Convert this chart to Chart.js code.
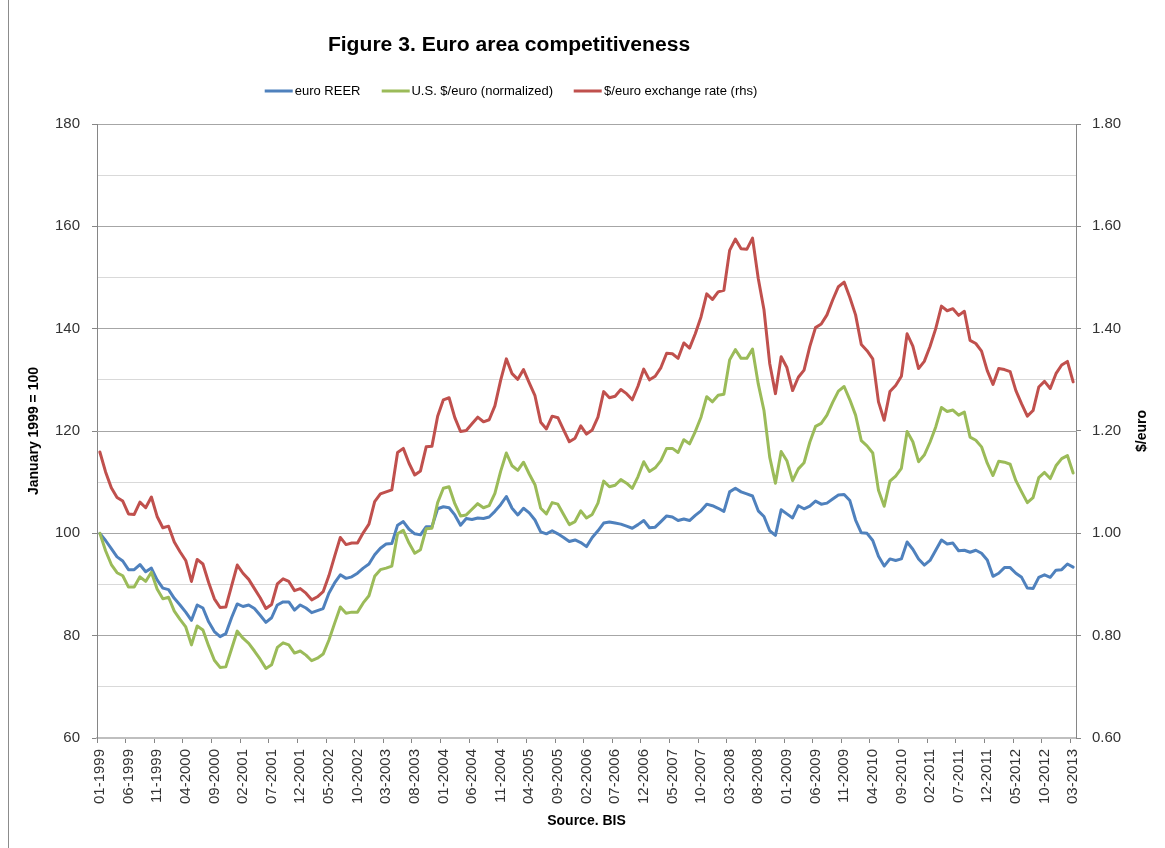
<!DOCTYPE html>
<html>
<head>
<meta charset="utf-8">
<title>Figure 3. Euro area competitiveness</title>
<script src="https://cdn.jsdelivr.net/npm/chart.js@4.4.1/dist/chart.umd.min.js"></script>
<style>
    body { margin: 0; background: #fff; }
    #wrap { position: relative; width: 1165px; height: 848px; overflow: hidden; }
    #chart { position: absolute; left: 0; top: 0; }
    #frame { position: absolute; left: 8px; top: 0; width: 1px; height: 848px; background: #8c8c8c; }
    #title {
        position: absolute; left: 509px; top: 44px; transform: translate(-50%, -50%);
        font-family: "Liberation Sans", Arial, sans-serif;
        font-weight: bold; font-size: 24px; color: #000; white-space: nowrap;
    }
    #legend {
        position: absolute; left: 511px; top: 90px; transform: translate(-50%, -50%);
        display: flex; gap: 21px; white-space: nowrap;
        font-family: "Liberation Sans", Arial, sans-serif; font-size: 13px; color: #000;
    }
    #legend .swatch { display: inline-block; width: 28px; height: 3px; margin-right: 2px; vertical-align: middle; }
    #rightTitle {
        position: absolute; left: 1141px; top: 431px; transform: translate(-50%, -50%) rotate(-90deg);
        font-family: "Liberation Sans", Arial, sans-serif; font-weight: bold; font-size: 14px;
        color: #000; white-space: nowrap;
    }
</style>
</head>
<body>
<div id="wrap">
    <canvas id="chart" width="1165" height="848"></canvas>
    <div id="frame"></div>
    <div id="title">Figure 3. Euro area competitiveness</div>
    <div id="legend"></div>
    <div id="rightTitle">$/euro</div>
</div>
<script>
// Monthly, 01-1999 .. 03-2013
const START_YEAR = 1999;
const MONTH_COUNT = 171;

// euro REER (January 1999 = 100)
const reer = [
    100.0, 98.6, 97.0, 95.4, 94.6, 92.9, 92.9, 93.9, 92.5, 93.2, 90.9, 89.3,
    89.0, 87.3, 86.0, 84.6, 83.0, 86.0, 85.4, 82.7, 80.8, 79.8, 80.4, 83.5,
    86.2, 85.7, 86.0, 85.3, 84.0, 82.6, 83.5, 86.0, 86.6, 86.6, 85.0, 86.0,
    85.4, 84.5, 84.9, 85.3, 88.3, 90.3, 91.9, 91.2, 91.5, 92.2, 93.2, 94.0,
    95.8, 97.1, 97.9, 98.0, 101.6, 102.3, 100.8, 99.9, 99.7, 101.3, 101.3, 104.8,
    105.2, 105.0, 103.6, 101.6, 102.9, 102.7, 103.0, 102.9, 103.2, 104.3, 105.6, 107.2,
    104.9, 103.6, 104.9, 104.0, 102.6, 100.3, 99.9, 100.5, 99.9, 99.2, 98.4, 98.7,
    98.2, 97.4, 99.2, 100.5, 102.0, 102.2, 102.0, 101.8, 101.4, 101.0, 101.7, 102.5,
    101.1, 101.2, 102.3, 103.4, 103.2, 102.5, 102.8, 102.5, 103.5, 104.4, 105.7, 105.4,
    104.9, 104.3, 108.1, 108.8, 108.1, 107.7, 107.3, 104.4, 103.3, 100.5, 99.6, 104.6,
    103.8, 103.0, 105.4, 104.8, 105.3, 106.3, 105.7, 105.9, 106.7, 107.5, 107.6, 106.4,
    102.6, 100.1, 100.0, 98.6, 95.5, 93.6, 95.0, 94.7, 95.0, 98.3, 96.9, 95.0,
    93.8, 94.7, 96.7, 98.7, 97.9, 98.1, 96.6, 96.7, 96.3, 96.7, 96.1, 94.8,
    91.6, 92.2, 93.3, 93.3, 92.2, 91.4, 89.3, 89.2, 91.4, 91.9, 91.4, 92.8,
    92.9, 94.0, 93.4
];

// U.S. $/euro (normalized, January 1999 = 100)
const usdEuroNorm = [
    100.0, 96.6, 93.9, 92.3, 91.7, 89.5, 89.5, 91.5, 90.6, 92.4, 89.1, 87.2,
    87.5, 84.8, 83.2, 81.7, 78.2, 81.9, 81.1, 78.0, 75.2, 73.8, 73.9, 77.4,
    80.9, 79.5, 78.5, 77.0, 75.4, 73.6, 74.3, 77.7, 78.6, 78.2, 76.6, 77.0,
    76.2, 75.1, 75.6, 76.4, 79.1, 82.4, 85.6, 84.4, 84.6, 84.6, 86.4, 87.8,
    91.6, 92.9, 93.2, 93.6, 99.9, 100.6, 98.1, 96.1, 96.8, 100.9, 101.0, 106.0,
    108.8, 109.1, 105.8, 103.4, 103.6, 104.7, 105.8, 105.0, 105.4, 107.8, 112.1, 115.7,
    113.2, 112.3, 113.9, 111.6, 109.5, 104.9, 103.8, 106.0, 105.7, 103.7, 101.7, 102.3,
    104.4, 103.0, 103.7, 105.9, 110.2, 109.1, 109.4, 110.5, 109.8, 108.8, 111.1, 114.0,
    112.1, 112.8, 114.2, 116.6, 116.6, 115.8, 118.3, 117.5, 119.9, 122.7, 126.7, 125.7,
    127.0, 127.2, 133.9, 135.9, 134.2, 134.2, 136.0, 129.2, 124.0, 114.9, 109.8, 116.0,
    114.2, 110.3, 112.6, 113.8, 117.8, 120.9, 121.5, 123.1, 125.6, 127.8, 128.7, 126.1,
    123.1, 118.1, 117.1, 115.7, 108.4, 105.3, 110.2, 111.2, 112.7, 119.9, 117.9, 114.0,
    115.3, 117.8, 120.8, 124.6, 123.8, 124.1, 123.1, 123.7, 118.8, 118.2, 116.9, 113.7,
    111.3, 114.1, 113.9, 113.5, 110.3, 108.1, 106.0, 107.0, 110.9, 111.9, 110.7, 113.2,
    114.6, 115.2, 111.8
];

// $/euro exchange rate (rhs)
const usdEuroRate = [
    1.159, 1.120, 1.089, 1.070, 1.063, 1.038, 1.037, 1.061, 1.050, 1.071, 1.033, 1.011,
    1.014, 0.983, 0.964, 0.947, 0.906, 0.949, 0.940, 0.904, 0.872, 0.855, 0.856, 0.897,
    0.938, 0.922, 0.910, 0.892, 0.874, 0.853, 0.861, 0.901, 0.911, 0.906, 0.888, 0.892,
    0.883, 0.870, 0.876, 0.886, 0.917, 0.955, 0.992, 0.978, 0.981, 0.981, 1.001, 1.018,
    1.062, 1.077, 1.081, 1.085, 1.158, 1.166, 1.137, 1.114, 1.122, 1.169, 1.170, 1.229,
    1.261, 1.265, 1.226, 1.199, 1.201, 1.214, 1.227, 1.218, 1.222, 1.249, 1.299, 1.341,
    1.312, 1.301, 1.320, 1.294, 1.269, 1.217, 1.204, 1.229, 1.226, 1.202, 1.179, 1.186,
    1.210, 1.194, 1.202, 1.227, 1.277, 1.265, 1.268, 1.281, 1.273, 1.261, 1.288, 1.321,
    1.300, 1.307, 1.324, 1.352, 1.351, 1.342, 1.372, 1.362, 1.390, 1.423, 1.468, 1.457,
    1.472, 1.475, 1.553, 1.575, 1.556, 1.555, 1.577, 1.498, 1.437, 1.332, 1.273, 1.345,
    1.324, 1.279, 1.305, 1.319, 1.365, 1.402, 1.409, 1.427, 1.456, 1.482, 1.491, 1.461,
    1.427, 1.369, 1.357, 1.341, 1.257, 1.221, 1.277, 1.289, 1.307, 1.390, 1.366, 1.322,
    1.336, 1.365, 1.400, 1.444, 1.435, 1.439, 1.426, 1.434, 1.377, 1.371, 1.356, 1.318,
    1.291, 1.322, 1.320, 1.316, 1.279, 1.253, 1.229, 1.240, 1.286, 1.297, 1.283, 1.312,
    1.329, 1.336, 1.296
];

// Category labels MM-YYYY, every 5th one is shown on the axis
const months = [];
for (let i = 0; i < MONTH_COUNT; i++) {
    const mm = String(i % 12 + 1).padStart(2, '0');
    months.push(mm + '-' + (START_YEAR + Math.floor(i / 12)));
}
const LABEL_EVERY = 5;

const TICK_COLOR = '#333';
const AXIS_COLOR = '#868686';

Chart.defaults.font.family = '"Liberation Sans", Arial, sans-serif';

const isMajorLeft = ctx => ctx.tick && Math.round(ctx.tick.value) % 20 === 0;
const isMajorRight = ctx => ctx.tick && Math.round(ctx.tick.value * 10) % 2 === 0;

const chart = new Chart(document.getElementById('chart'), {
    type: 'line',
    data: {
        labels: months,
        datasets: [
            { label: 'euro REER', data: reer, borderColor: '#4F81BD', backgroundColor: '#4F81BD', yAxisID: 'y', order: 3 },
            { label: 'U.S. $/euro (normalized)', data: usdEuroNorm, borderColor: '#9BBB59', backgroundColor: '#9BBB59', yAxisID: 'y', order: 2 },
            { label: '$/euro exchange rate (rhs)', data: usdEuroRate, borderColor: '#C0504D', backgroundColor: '#C0504D', yAxisID: 'y1', order: 1 }
        ]
    },
    options: {
        responsive: false,
        animation: false,
        devicePixelRatio: 1,
        layout: { padding: { top: 124, left: 0, right: 0, bottom: 0 } },
        elements: {
            point: { radius: 0 },
            line: { borderWidth: 3, tension: 0, borderJoinStyle: 'round', borderCapStyle: 'round' }
        },
        plugins: {
            legend: { display: false },
            title: { display: false },
            tooltip: { enabled: false }
        },
        scales: {
            x: {
                type: 'category',
                offset: true,
                grid: {
                    offset: true,
                    drawOnChartArea: false,
                    tickLength: 5,
                    tickColor: ctx => (ctx.index % LABEL_EVERY === 0 ? AXIS_COLOR : 'transparent')
                },
                border: { color: '#bfbfbf', width: 2 },
                ticks: {
                    autoSkip: false,
                    minRotation: 90,
                    maxRotation: 90,
                    padding: 6,
                    color: TICK_COLOR,
                    font: { size: 15 },
                    callback: function (value, index) {
                        return index % LABEL_EVERY === 0 ? this.getLabelForValue(value) : '';
                    }
                },
                title: {
                    display: true,
                    text: 'Source. BIS',
                    color: '#000',
                    font: { size: 14, weight: 'bold' },
                    padding: { top: 0, bottom: 18 }
                },
                afterFit: scale => { scale.height = 110; }
            },
            y: {
                position: 'left',
                min: 60,
                max: 180,
                ticks: {
                    stepSize: 10,
                    padding: 12,
                    color: TICK_COLOR,
                    font: { size: 15 },
                    callback: v => (Math.round(v) % 20 === 0 ? v : '')
                },
                grid: {
                    color: ctx => (isMajorLeft(ctx) ? '#a6a6a6' : '#d9d9d9'),
                    tickLength: 5,
                    tickColor: ctx => (isMajorLeft(ctx) ? AXIS_COLOR : 'transparent')
                },
                border: { color: AXIS_COLOR },
                title: {
                    display: true,
                    text: 'January 1999 = 100',
                    color: '#000',
                    font: { size: 14, weight: 'bold' },
                    padding: { top: 26, bottom: 0 }
                },
                afterFit: scale => { scale.width = 97; }
            },
            y1: {
                position: 'right',
                min: 0.6,
                max: 1.8,
                ticks: {
                    stepSize: 0.1,
                    padding: 11,
                    color: TICK_COLOR,
                    font: { size: 15 },
                    callback: v => (Math.round(v * 10) % 2 === 0 ? v.toFixed(2) : '')
                },
                grid: {
                    drawOnChartArea: false,
                    tickLength: 5,
                    tickColor: ctx => (isMajorRight(ctx) ? AXIS_COLOR : 'transparent')
                },
                border: { color: AXIS_COLOR },
                afterFit: scale => { scale.width = 89; }
            }
        }
    }
});

// Legend built from the datasets
document.getElementById('legend').innerHTML = chart.data.datasets.map(ds => `
    <span class="item"><span class="swatch" style="background:${ds.borderColor}"></span>${ds.label}</span>
`).join('');

// Fit the title to roughly the width it has in the original figure
const titleEl = document.getElementById('title');
const titleWidth = titleEl.getBoundingClientRect().width;
titleEl.style.fontSize = (24 * 362 / titleWidth).toFixed(1) + 'px';
</script>
</body>
</html>
